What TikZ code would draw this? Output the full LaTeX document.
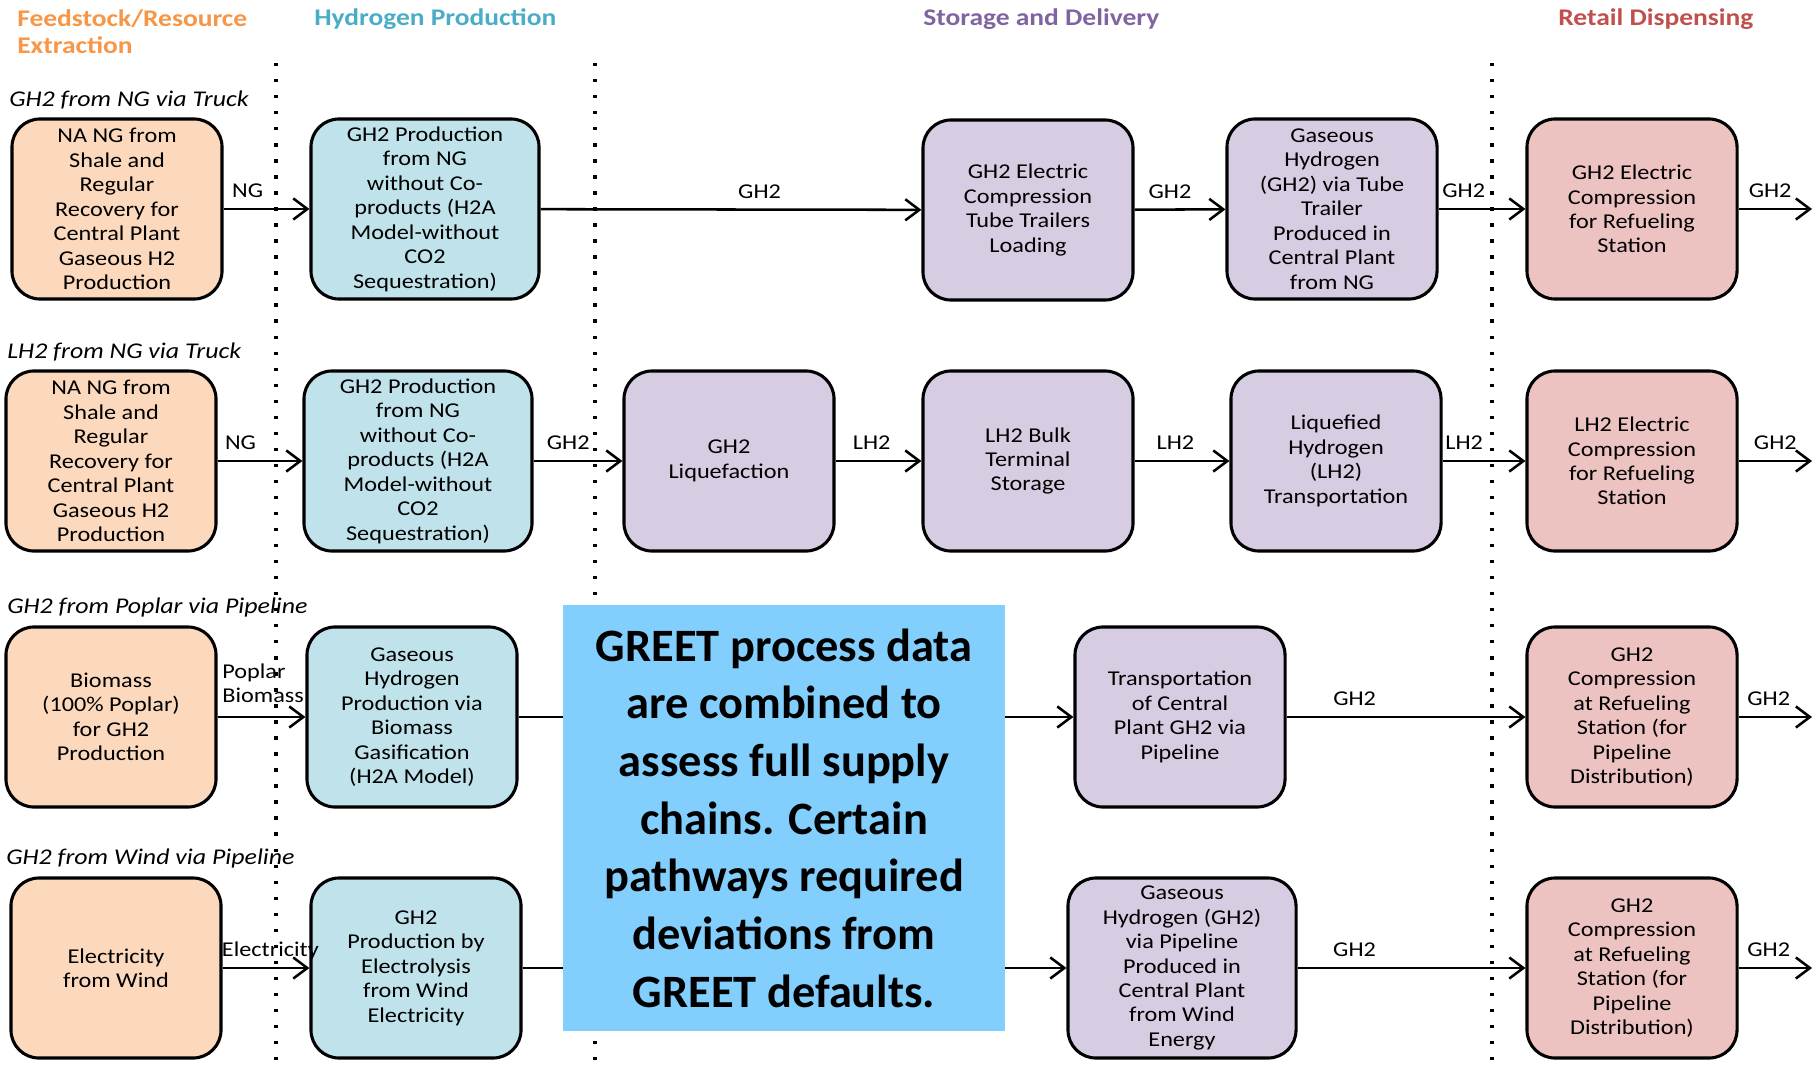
\documentclass[tikz,border=0pt]{standalone}
\usepackage{fontspec}
\setmainfont{Carlito}[FakeStretch=1.15]
\newfontfamily\notefont{Carlito}
\usetikzlibrary{arrows.meta}
\definecolor{feedorange}{HTML}{FCD9BD}
\definecolor{prodblue}{HTML}{BFE2EB}
\definecolor{storepurple}{HTML}{D7CDE2}
\definecolor{retailpink}{HTML}{EDC3C2}
\definecolor{noteblue}{HTML}{82CFFD}
\definecolor{hdrorange}{HTML}{F79646}
\definecolor{hdrblue}{HTML}{4BACC6}
\definecolor{hdrpurple}{HTML}{8064A2}
\definecolor{hdrred}{HTML}{C0504D}

\begin{document}
\begin{tikzpicture}[x=0.025cm,y=-0.025cm,
  box/.style={rectangle,draw,line width=2.2pt,rounded corners=0.7cm,
    minimum width=5.25cm,minimum height=4.5cm,inner sep=0pt,
    align=center,font=\fontsize{15}{17.4}\selectfont},
  wide/.style={minimum width=5.7cm},
  arr/.style={-{Straight Barb[length=10pt,width=15pt]},line width=1.8pt},
  lbl/.style={anchor=base,yshift=8pt,inner sep=0pt,font=\fontsize{15}{17.4}\selectfont},
  hdr/.style={anchor=west,inner sep=0pt,align=left,font=\fontsize{17}{19}\selectfont\bfseries},
  routelbl/.style={anchor=west,inner sep=0pt,font=\fontsize{16}{18}\selectfont\itshape},
  stagesep/.style={line width=2.4pt,dash pattern=on 2.4pt off 9pt},
  note/.style={fill=noteblue,minimum width=11.05cm,minimum height=10.65cm,
    align=center,font=\notefont\fontsize{33}{41}\selectfont\bfseries}]

  \useasboundingbox (0,0) rectangle (1819,1064);

  \node[hdr,text=hdrorange] (hfeed) at (17,32) {Feedstock/Resource\\Extraction};
  \node[hdr,text=hdrblue] (hprod) at (314,19) {Hydrogen Production};
  \node[hdr,text=hdrpurple] (hstore) at (923,19) {Storage and Delivery};
  \node[hdr,text=hdrred] (hretail) at (1558,19) {Retail Dispensing};

  \foreach \sx in {276,595,1492}
    \draw[stagesep] (\sx,63) -- (\sx,1064);

  \node[routelbl] (r1) at (9,100) {GH2 from NG via Truck};
  \node[routelbl] (r2) at (7,352) {LH2 from NG via Truck};
  \node[routelbl] (r3) at (7,607) {GH2 from Poplar via Pipeline};
  \node[routelbl] (r4) at (6,858) {GH2 from Wind via Pipeline};

  \node[box,fill=feedorange] (ng1) at (117,209) {NA NG from\\Shale and\\Regular\\Recovery for\\Central Plant\\Gaseous H2\\Production};
  \node[box,wide,fill=prodblue] (smr1) at (425,209) {GH2 Production\\from NG\\without Co-\\products (H2A\\Model-without\\CO2\\Sequestration)};
  \node[box,fill=storepurple] (tube1) at (1028,210) {GH2 Electric\\Compression\\Tube Trailers\\Loading};
  \node[box,fill=storepurple] (trailer1) at (1332,209) {Gaseous\\Hydrogen\\(GH2) via Tube\\Trailer\\Produced in\\Central Plant\\from NG};
  \node[box,fill=retailpink] (pump1) at (1632,209) {GH2 Electric\\Compression\\for Refueling\\Station};
  \coordinate (out1) at (1812,209);

  \node[box,fill=feedorange] (ng2) at (111,461) {NA NG from\\Shale and\\Regular\\Recovery for\\Central Plant\\Gaseous H2\\Production};
  \node[box,wide,fill=prodblue] (smr2) at (418,461) {GH2 Production\\from NG\\without Co-\\products (H2A\\Model-without\\CO2\\Sequestration)};
  \node[box,fill=storepurple] (liq2) at (729,461) {GH2\\Liquefaction};
  \node[box,fill=storepurple] (bulk2) at (1028,461) {LH2 Bulk\\Terminal\\Storage};
  \node[box,fill=storepurple] (lhtruck2) at (1336,461) {Liquefied\\Hydrogen\\(LH2)\\Transportation};
  \node[box,fill=retailpink] (pump2) at (1632,461) {LH2 Electric\\Compression\\for Refueling\\Station};
  \coordinate (out2) at (1812,461);

  \node[box,fill=feedorange] (poplar3) at (111,717) {Biomass\\(100\% Poplar)\\for GH2\\Production};
  \node[box,fill=prodblue] (gasif3) at (412,717) {Gaseous\\Hydrogen\\Production via\\Biomass\\Gasification\\(H2A Model)};
  \node[box,fill=storepurple] (pipe3) at (1180,717) {Transportation\\of Central\\Plant GH2 via\\Pipeline};
  \node[box,fill=retailpink] (pump3) at (1632,717) {GH2\\Compression\\at Refueling\\Station (for\\Pipeline\\Distribution)};
  \coordinate (out3) at (1812,717);

  \node[box,fill=feedorange] (wind4) at (116,968) {Electricity\\from Wind};
  \node[box,fill=prodblue] (elec4) at (416,968) {GH2\\Production by\\Electrolysis\\from Wind\\Electricity};
  \node[box,wide,fill=storepurple] (pipe4) at (1182,968) {Gaseous\\Hydrogen (GH2)\\via Pipeline\\Produced in\\Central Plant\\from Wind\\Energy};
  \node[box,fill=retailpink] (pump4) at (1632,968) {GH2\\Compression\\at Refueling\\Station (for\\Pipeline\\Distribution)};
  \coordinate (out4) at (1812,968);

  \draw[arr] (ng1) -- node[lbl,pos=0.28] {NG} (smr1);
  \draw[arr] (smr1) -- node[lbl,pos=0.575] {GH2} (tube1);
  \draw[arr] (tube1) -- node[lbl,pos=0.39] {GH2} (trailer1);
  \draw[arr] (trailer1) -- node[lbl,pos=0.29] {GH2} (pump1);
  \draw[arr] (pump1) -- node[lbl,pos=0.43] {GH2} (out1);

  \draw[arr] (ng2) -- node[lbl,pos=0.27] {NG} (smr2);
  \draw[arr] (smr2) -- node[lbl,pos=0.39] {GH2} (liq2);
  \draw[arr] (liq2) -- node[lbl,pos=0.42] {LH2} (bulk2);
  \draw[arr] (bulk2) -- node[lbl,pos=0.43] {LH2} (lhtruck2);
  \draw[arr] (lhtruck2) -- node[lbl,pos=0.26] {LH2} (pump2);
  \draw[arr] (pump2) -- node[lbl,pos=0.5] {GH2} (out2);

  \draw[arr] (poplar3) -- node[lbl,anchor=south west,yshift=1pt,align=left,pos=0.04] {Poplar\\Biomass} (gasif3);
  \draw[arr] (gasif3) -- (pipe3);
  \draw[arr] (pipe3) -- node[lbl,pos=0.285] {GH2} (pump3);
  \draw[arr] (pump3) -- node[lbl,pos=0.41] {GH2} (out3);

  \draw[arr] (wind4) -- node[lbl,pos=0.55] {Electricity} (elec4);
  \draw[arr] (elec4) -- (pipe4);
  \draw[arr] (pipe4) -- node[lbl,pos=0.25] {GH2} (pump4);
  \draw[arr] (pump4) -- node[lbl,pos=0.41] {GH2} (out4);

  \node[note] (greet) at (784,818) {GREET process data\\are combined to\\assess full supply\\chains. Certain\\pathways required\\deviations from\\GREET defaults.};
\end{tikzpicture}
\end{document}
